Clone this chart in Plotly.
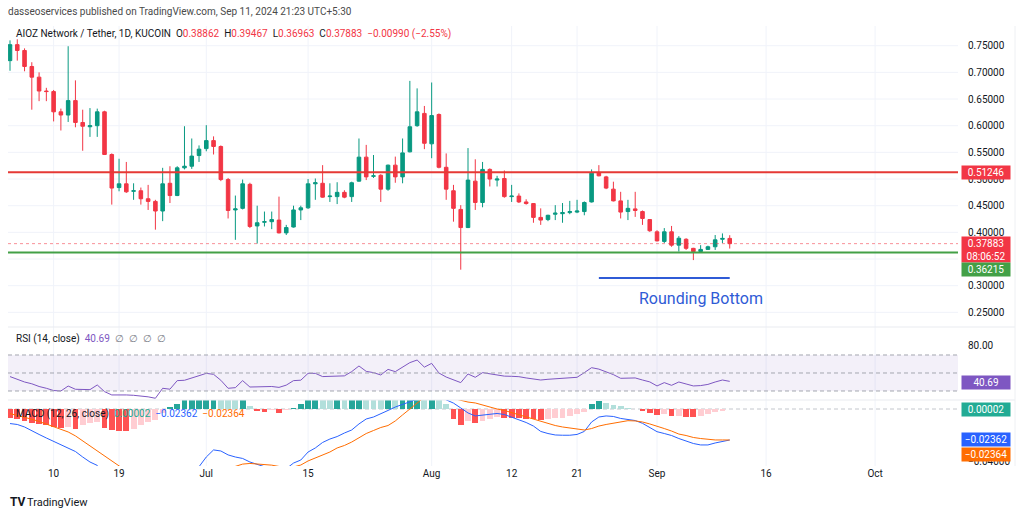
import pandas as pd
import plotly.graph_objects as go

W, H = 1024, 517
def fx(p):  # pixel x -> paper
    return p / W
def fy(p):  # pixel y -> paper
    return 1 - p / H

# ---------------- DATA ----------------
start_date = "2024-06-04"
n_days = 100
dates = pd.date_range(start_date, periods=n_days, freq="D")

open_ = [0.722, 0.752, 0.741, 0.711, 0.691, 0.665, 0.664, 0.626, 0.620, 0.647,
         0.606, 0.598, 0.600, 0.626, 0.546, 0.484, 0.491, 0.477, 0.478, 0.463,
         0.458, 0.440, 0.492, 0.469, 0.521, 0.524, 0.544, 0.557, 0.572, 0.561,
         0.499, 0.442, 0.445, 0.490, 0.412, 0.419, 0.420, 0.423, 0.399, 0.410,
         0.442, 0.446, 0.491, 0.492, 0.467, 0.467, 0.475, 0.467, 0.496, 0.541,
         0.505, 0.507, 0.481, 0.526, 0.504, 0.551, 0.600, 0.623, 0.566, 0.621,
         0.522, 0.478, 0.443, 0.409, 0.496, 0.456, 0.518, 0.498, 0.501, 0.467,
         0.468, 0.457, 0.454, 0.428, 0.424, 0.434, 0.435, 0.437, 0.438, 0.439,
         0.457, 0.512, 0.504, 0.481, 0.459, 0.439, 0.444, 0.439, 0.424, 0.401,
         0.383, 0.401, 0.376, 0.387, 0.370, 0.364, 0.368, 0.373, 0.387, 0.38862]
high = [0.760, 0.762, 0.745, 0.719, 0.700, 0.671, 0.667, 0.632, 0.749, 0.685,
        0.630, 0.633, 0.632, 0.628, 0.548, 0.538, 0.532, 0.492, 0.484, 0.489,
        0.461, 0.521, 0.524, 0.524, 0.599, 0.576, 0.563, 0.601, 0.580, 0.563,
        0.502, 0.469, 0.499, 0.493, 0.450, 0.439, 0.439, 0.467, 0.414, 0.450,
        0.450, 0.500, 0.501, 0.526, 0.492, 0.494, 0.479, 0.495, 0.576, 0.564,
        0.545, 0.509, 0.527, 0.542, 0.576, 0.684, 0.670, 0.637, 0.681, 0.623,
        0.548, 0.489, 0.451, 0.558, 0.537, 0.532, 0.520, 0.506, 0.516, 0.489,
        0.473, 0.462, 0.455, 0.445, 0.433, 0.451, 0.455, 0.459, 0.461, 0.458,
        0.518, 0.526, 0.506, 0.495, 0.476, 0.461, 0.476, 0.441, 0.425, 0.404,
        0.408, 0.412, 0.393, 0.389, 0.371, 0.376, 0.375, 0.395, 0.398, 0.39467]
low = [0.703, 0.722, 0.702, 0.630, 0.646, 0.646, 0.608, 0.591, 0.607, 0.597,
       0.553, 0.579, 0.579, 0.545, 0.452, 0.477, 0.474, 0.461, 0.452, 0.442,
       0.405, 0.421, 0.455, 0.468, 0.518, 0.519, 0.532, 0.552, 0.546, 0.496,
       0.426, 0.386, 0.443, 0.408, 0.379, 0.411, 0.406, 0.398, 0.395, 0.409,
       0.423, 0.444, 0.461, 0.465, 0.457, 0.453, 0.464, 0.457, 0.495, 0.498,
       0.502, 0.457, 0.478, 0.493, 0.492, 0.550, 0.598, 0.556, 0.539, 0.520,
       0.461, 0.420, 0.330, 0.408, 0.442, 0.447, 0.486, 0.486, 0.465, 0.457,
       0.455, 0.452, 0.418, 0.414, 0.421, 0.423, 0.418, 0.434, 0.436, 0.432,
       0.456, 0.505, 0.481, 0.458, 0.426, 0.423, 0.429, 0.414, 0.401, 0.383,
       0.380, 0.373, 0.364, 0.367, 0.348, 0.363, 0.367, 0.367, 0.380, 0.36963]
close = [0.752, 0.741, 0.711, 0.691, 0.665, 0.664, 0.626, 0.620, 0.647, 0.606,
         0.599, 0.600, 0.626, 0.546, 0.483, 0.491, 0.476, 0.478, 0.463, 0.458,
         0.440, 0.491, 0.469, 0.521, 0.524, 0.543, 0.556, 0.572, 0.561, 0.499,
         0.441, 0.444, 0.491, 0.411, 0.418, 0.420, 0.424, 0.399, 0.409, 0.442,
         0.446, 0.491, 0.493, 0.466, 0.468, 0.475, 0.466, 0.493, 0.541, 0.504,
         0.506, 0.481, 0.526, 0.504, 0.549, 0.598, 0.626, 0.567, 0.619, 0.522,
         0.481, 0.445, 0.409, 0.498, 0.456, 0.518, 0.500, 0.500, 0.467, 0.468,
         0.457, 0.454, 0.428, 0.423, 0.432, 0.436, 0.437, 0.439, 0.440, 0.456,
         0.511, 0.506, 0.483, 0.459, 0.438, 0.445, 0.441, 0.426, 0.403, 0.384,
         0.401, 0.376, 0.389, 0.370, 0.364, 0.368, 0.373, 0.386, 0.3886, 0.37883]

rsi = [46.0, 43.0, 40.0, 38.0, 35.0, 33.0, 30.5, 30.0, 35.5, 31.9,
       31.5, 31.5, 36.7, 29.3, 25.6, 26.0, 25.6, 25.2, 24.4, 23.5,
       21.9, 33.0, 32.0, 41.5, 41.9, 44.8, 47.0, 49.6, 48.5, 41.9,
       33.0, 33.7, 41.5, 34.4, 34.7, 35.0, 35.0, 34.0, 36.5, 41.5,
       42.0, 49.6, 49.6, 46.0, 46.3, 46.8, 46.8, 51.5, 57.8, 51.8,
       50.4, 47.8, 54.0, 51.5, 57.0, 61.5, 64.4, 56.5, 60.7, 50.0,
       45.5, 42.0, 39.3, 48.9, 45.2, 50.4, 49.3, 48.2, 46.5, 46.3,
       45.9, 44.5, 43.0, 42.2, 43.0, 43.6, 44.1, 44.6, 45.2, 50.4,
       55.9, 54.3, 51.3, 48.2, 44.1, 44.6, 44.5, 42.2, 40.1, 35.6,
       39.3, 36.3, 40.0, 37.8, 35.6, 36.0, 37.3, 40.0, 42.2, 40.69]

macd = [-0.0111, -0.0118, -0.0137, -0.0168, -0.0194, -0.0221, -0.0248, -0.0274, -0.0297, -0.0324,
        -0.0366, -0.0404, -0.0430, -0.0505, -0.0560, -0.0605, -0.0640, -0.0655, -0.0665, -0.0670,
        -0.0675, -0.0650, -0.0610, -0.0560, -0.0515, -0.0475, -0.0440, -0.0366, -0.0312, -0.0320,
        -0.0350, -0.0366, -0.0377, -0.0404, -0.0425, -0.0440, -0.0450, -0.0465, -0.0455, -0.0412,
        -0.0389, -0.0328, -0.0297, -0.0255, -0.0229, -0.0210, -0.0183, -0.0160, -0.0114, -0.0076,
        -0.0061, -0.0038, -0.0011, 0.0015, 0.0034, 0.0052, 0.0075, 0.0100, 0.0110, 0.0095,
        0.0070, 0.0045, 0.0008, -0.0030, -0.0053, -0.0046, -0.0042, -0.0034, -0.0042, -0.0061,
        -0.0080, -0.0103, -0.0130, -0.0171, -0.0187, -0.0198, -0.0200, -0.0200, -0.0194, -0.0171,
        -0.0099, -0.0061, -0.0053, -0.0057, -0.0072, -0.0080, -0.0088, -0.0109, -0.0141, -0.0173,
        -0.0187, -0.0202, -0.0225, -0.0244, -0.0263, -0.0274, -0.0274, -0.0259, -0.0248, -0.02362]

signal = [-0.0035, -0.0048, -0.0062, -0.0078, -0.0095, -0.0115, -0.0135, -0.0155, -0.0175, -0.0205,
          -0.0245, -0.0280, -0.0318, -0.0360, -0.0400, -0.0440, -0.0480, -0.0510, -0.0540, -0.0565,
          -0.0590, -0.0610, -0.0625, -0.0615, -0.0600, -0.0580, -0.0560, -0.0530, -0.0500, -0.0475,
          -0.0455, -0.0440, -0.0420, -0.0415, -0.0418, -0.0422, -0.0428, -0.0438, -0.0445, -0.0442,
          -0.0427, -0.0396, -0.0373, -0.0347, -0.0328, -0.0297, -0.0278, -0.0252, -0.0217, -0.0187,
          -0.0164, -0.0141, -0.0126, -0.0091, -0.0045, 0.0000, 0.0045, 0.0090, 0.0095, 0.0095,
          0.0088, 0.0080, 0.0065, 0.0053, 0.0046, 0.0030, 0.0015, 0.0000, -0.0011, -0.0027,
          -0.0046, -0.0061, -0.0080, -0.0097, -0.0110, -0.0126, -0.0137, -0.0145, -0.0155, -0.0160,
          -0.0149, -0.0130, -0.0118, -0.0107, -0.0095, -0.0089, -0.0091, -0.0099, -0.0114, -0.0130,
          -0.0149, -0.0168, -0.0191, -0.0202, -0.0217, -0.0225, -0.0232, -0.0236, -0.0236, -0.02364]

hist = [-0.0070, -0.0080, -0.0095, -0.0105, -0.0115, -0.0125, -0.0135, -0.0145, -0.0135, -0.0150,
        -0.0125, -0.0110, -0.0100, -0.0145, -0.0160, -0.0165, -0.0170, -0.0150, -0.0125, -0.0100,
        -0.0085, -0.0030, 0.0015, 0.0040, 0.0070, 0.0090, 0.0110, 0.0130, 0.0140, 0.0120,
        0.0090, 0.0070, 0.0080, 0.0020, -0.0015, -0.0020, -0.0010, -0.0030, -0.0010, 0.0010,
        0.0040, 0.0070, 0.0090, 0.0080, 0.0070, 0.0085, 0.0080, 0.0090, 0.0110, 0.0105,
        0.0100, 0.0095, 0.0115, 0.0105, 0.0115, 0.0130, 0.0140, 0.0120, 0.0130, 0.0090,
        0.0040, -0.0080, -0.0125, -0.0090, -0.0105, -0.0090, -0.0075, -0.0060, -0.0065, -0.0070,
        -0.0072, -0.0074, -0.0080, -0.0085, -0.0078, -0.0072, -0.0065, -0.0055, -0.0040, -0.0020,
        0.0040, 0.0060, 0.0045, 0.0030, 0.0020, 0.0008, -0.0003, -0.0015, -0.0030, -0.0045,
        -0.0040, -0.0055, -0.0050, -0.0058, -0.0060, -0.0050, -0.0040, -0.0025, -0.0012, 0.00002]

level_resistance = 0.51246
level_support = 0.36215
last_close = 0.37883

x_tick_dates = ["2024-06-10", "2024-06-19", "2024-07-01", "2024-07-15", "2024-08-01",
                "2024-08-12", "2024-08-21", "2024-09-01", "2024-09-16", "2024-10-01"]
x_tick_text = ["10", "19", "Jul", "15", "Aug", "12", "21", "Sep", "16", "Oct"]
price_ticks = [0.25, 0.30, 0.40, 0.45, 0.50, 0.55, 0.60, 0.65, 0.70, 0.75]
price_grid = [0.25, 0.30, 0.35, 0.40, 0.45, 0.50, 0.55, 0.60, 0.65, 0.70, 0.75]

pattern_start, pattern_end = "2024-08-24", "2024-09-11"
pattern_level = 0.3144
pattern_label_date, pattern_label_price = "2024-09-07", 0.2769

# ---------------- STYLE ----------------
UP, DOWN = "#089981", "#f23645"
TXT = "#131722"
GRID = "#f0f3fa"
FONT = "Roboto, Arial, sans-serif"

hist_colors = []
prev = 0.0
for h in hist:
    if h >= 0:
        hist_colors.append("#26a69a" if h > prev else "#b2dfdb")
    else:
        hist_colors.append("#ff5252" if h < prev else "#ffcdd2")
    prev = h

fig = go.Figure()

fig.add_trace(go.Candlestick(
    x=dates, open=open_, high=high, low=low, close=close,
    increasing=dict(line=dict(color=UP, width=1), fillcolor=UP),
    decreasing=dict(line=dict(color=DOWN, width=1), fillcolor=DOWN),
    whiskerwidth=0, xaxis="x", yaxis="y", showlegend=False))

fig.add_trace(go.Scatter(x=dates, y=rsi, mode="lines", line=dict(color="#7e57c2", width=1),
                         xaxis="x", yaxis="y2", showlegend=False))

fig.add_trace(go.Bar(x=dates, y=hist, marker=dict(color=hist_colors, line=dict(width=0)),
                     width=0.8 * 86400000, xaxis="x", yaxis="y3", showlegend=False))
fig.add_trace(go.Scatter(x=dates, y=macd, mode="lines", line=dict(color="#2962ff", width=1),
                         xaxis="x", yaxis="y3", showlegend=False))
fig.add_trace(go.Scatter(x=dates, y=signal, mode="lines", line=dict(color="#ff6d00", width=1),
                         xaxis="x", yaxis="y3", showlegend=False))

x_left = pd.Timestamp(start_date) - pd.Timedelta(hours=6.6)
x_right = pd.Timestamp(start_date) + pd.Timedelta(days=130.4)

shapes = []
# vertical grid lines
for d in x_tick_dates:
    shapes.append(dict(type="line", xref="x", yref="paper", x0=d, x1=d,
                       y0=fy(466), y1=fy(26), line=dict(color=GRID, width=1), layer="below"))
# horizontal price grid
for g in price_grid:
    shapes.append(dict(type="line", xref="x domain", yref="y", x0=0, x1=1, y0=g, y1=g,
                       line=dict(color=GRID, width=1), layer="below"))
# pane separators and right border
for yy in (327, 400):
    shapes.append(dict(type="line", xref="paper", yref="paper", x0=fx(8), x1=fx(1015),
                       y0=fy(yy), y1=fy(yy), line=dict(color="#e9ebf0", width=1)))
shapes.append(dict(type="line", xref="paper", yref="paper", x0=fx(1015), x1=fx(1015),
                   y0=fy(466), y1=fy(26), line=dict(color="#eef0f3", width=1)))
# price levels
shapes.append(dict(type="line", xref="x domain", yref="y", x0=0, x1=1,
                   y0=level_resistance, y1=level_resistance, line=dict(color="#e53935", width=2)))
shapes.append(dict(type="line", xref="x domain", yref="y", x0=0, x1=1,
                   y0=level_support, y1=level_support, line=dict(color="#43a047", width=2)))
shapes.append(dict(type="line", xref="x domain", yref="y", x0=0, x1=1,
                   y0=last_close, y1=last_close, line=dict(color="rgba(242,54,69,0.55)", width=1, dash="dot")))
# rounding bottom line
shapes.append(dict(type="line", xref="x", yref="y", x0=pattern_start, x1=pattern_end,
                   y0=pattern_level, y1=pattern_level, line=dict(color="#2f5bd6", width=2)))
# RSI band & levels
shapes.append(dict(type="rect", xref="x domain", yref="y2", x0=0, x1=1, y0=30, y1=70,
                   fillcolor="rgba(126,87,194,0.09)", line=dict(width=0), layer="below"))
for lv in (70, 50, 30):
    shapes.append(dict(type="line", xref="x domain", yref="y2", x0=0, x1=1, y0=lv, y1=lv,
                       line=dict(color="#a3a6af", width=1, dash="4px,3px")))
# MACD zero line
shapes.append(dict(type="line", xref="x domain", yref="y3", x0=0, x1=1, y0=0, y1=0,
                   line=dict(color="#c3c6cc", width=1, dash="4px,3px"), layer="below"))

ann = []
def label(text, xp, yp, size=10, color=TXT, xanchor="left", **kw):
    ann.append(dict(text=text, xref="paper", yref="paper", x=fx(xp), y=fy(yp),
                    xanchor=xanchor, yanchor="middle", showarrow=False,
                    font=dict(family=FONT, size=size, color=color), **kw))

label("dasseoservices published on TradingView.com, Sep 11, 2024 21:23 UTC+5:30", 6, 12, 10, "#4a4a4a")
R = "#f23645"
label("AIOZ Network / Tether, 1D, KUCOIN  "
      f"O<span style='color:{R}'>0.38862</span>  H<span style='color:{R}'>0.39467</span>  "
      f"L<span style='color:{R}'>0.36963</span>  C<span style='color:{R}'>0.37883</span>  "
      f"<span style='color:{R}'>−0.00990 (−2.55%)</span>", 14, 34, 10)
label("RSI (14, close)  <span style='color:#7e57c2'>40.69</span>  "
      "<span style='color:#787b86'>∅  ∅  ∅  ∅</span>", 14, 339, 10)
label("MACD (12, 26, close)  <span style='color:#22ab94'>0.00002</span>  "
      "<span style='color:#2962ff'>−0.02362</span>  <span style='color:#ff6d00'>−0.02364</span>", 14, 414, 10)
label("<b>TV</b>", 8, 502, 12, TXT)
label("TradingView", 25, 502, 11, TXT)

ann.append(dict(text="Rounding Bottom", xref="x", yref="y", x=pattern_label_date, y=pattern_label_price,
                xanchor="center", yanchor="middle", showarrow=False,
                font=dict(family=FONT, size=16, color="#2f5bd6")))

def box(text, yp, bg, h=11):
    ann.append(dict(text=text, xref="paper", yref="paper", x=fx(961), y=fy(yp),
                    xanchor="left", yanchor="middle", showarrow=False, bgcolor=bg,
                    width=46, height=h, borderpad=1, align="center",
                    font=dict(family=FONT, size=10, color="white")))

box("0.51246", 172, "#f23645")
box("0.37883<br>08:06:52", 249, "#f23645", 23)
box("0.36215", 269, "#43a047")
box("40.69", 382, "#7e57c2")
box("0.00002", 409.5, "#22ab94")
box("−0.02362", 439.5, "#2962ff")
box("−0.02364", 454, "#ff6d00")

axis_font = dict(family=FONT, size=10, color=TXT)
fig.update_layout(
    width=W, height=H, margin=dict(l=0, r=0, t=0, b=0),
    paper_bgcolor="white", plot_bgcolor="white",
    showlegend=False, bargap=0,
    shapes=shapes, annotations=ann,
    xaxis=dict(domain=[fx(8), fx(958)], range=[x_left, x_right], anchor="free", position=fy(466),
               tickvals=x_tick_dates, ticktext=x_tick_text, showgrid=False, zeroline=False,
               showline=False, ticks="", tickfont=axis_font, rangeslider=dict(visible=False),
               fixedrange=True),
    yaxis=dict(domain=[fy(326), fy(25)], range=[0.2244, 0.7888], side="right", anchor="x",
               tickvals=price_ticks, tickformat=".5f", showgrid=False,
               zeroline=False, showline=False, ticks="", tickfont=axis_font, ticklabelstandoff=9),
    yaxis2=dict(domain=[fy(399), fy(327)], range=[21.1, 101.1], side="right", anchor="x",
                tickvals=[80], tickformat=".2f", showgrid=False, zeroline=False,
                showline=False, ticks="", tickfont=axis_font, ticklabelstandoff=9),
    yaxis3=dict(domain=[fy(466), fy(400)], range=[-0.04345, 0.00686], side="right", anchor="x",
                tickvals=[-0.04], tickformat=".5f", showgrid=False, zeroline=False,
                showline=False, ticks="", tickfont=axis_font, ticklabelstandoff=9),
)

fig.write_html("out.html", config={"displayModeBar": False, "staticPlot": True},
               post_script="document.body.style.margin='0';document.body.style.padding='0';"
                           "document.body.style.overflow='hidden';")
